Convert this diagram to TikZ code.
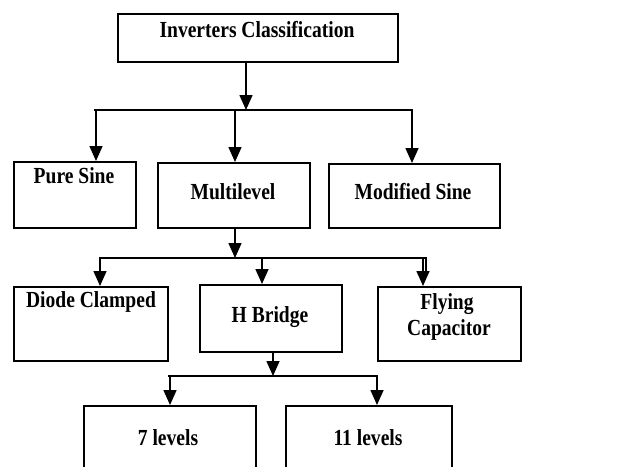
\documentclass[tikz,border=0pt]{standalone}
\usepackage{fontspec}
\setmainfont{Liberation Serif}[FakeStretch=0.85]
\usetikzlibrary{arrows.meta}
\tikzset{
  box/.style={draw=black, line width=1.6pt, rectangle, inner sep=0pt},
  lbl/.style={font=\fontsize{23}{26}\selectfont\bfseries, inner sep=0pt, align=center},
  wire/.style={draw=black, line width=1.6pt},
  arr/.style={wire, -{Triangle[width=13pt,length=15pt]}},
}
\newcommand{\boxat}[5]{%
  \node[box, minimum width=#4-#2, minimum height=#5-#3, anchor=north west] (#1) at (#2,#3) {};}
\begin{document}
\begin{tikzpicture}[x=1pt, y=-1pt]
\useasboundingbox (0,0) rectangle (639,466);
\clip (0,0) rectangle (639,466);

% boxes
\boxat{top}{117}{13}{397}{61}
\boxat{pure}{13}{161}{135}{227}
\boxat{multi}{157}{162}{309}{227}
\boxat{mod}{328}{163}{499}{227}
\boxat{diode}{13}{286}{167}{360}
\boxat{hb}{199}{284}{341}{351}
\boxat{fly}{377}{286}{520}{360}
\boxat{lseven}{83}{405}{255}{490}
\boxat{leleven}{285}{405}{451}{490}

% labels
\node[lbl] (ttop) at (257,30) {Inverters Classification};
\node[lbl] (tpure) at (74,176) {Pure Sine};
\node[lbl] (tmulti) at (233,192) {Multilevel};
\node[lbl] (tmod) at (413,192) {Modified Sine};
\node[lbl] (tdiode) at (91,302) {Diode Clamped};
\node[lbl] (thb) at (270,317) {H Bridge};
\node[lbl] (tfly) at (447,304) {Flying};
\node[lbl] (tcap) at (449,330) {Capacitor};
\node[lbl] (tseven) at (168,438) {7 levels};
\node[lbl] (televen) at (368,438) {11 levels};

% first level
\coordinate (j1) at (246,110);
\coordinate (b1l) at (94,110);
\coordinate (b1r) at (413,110);
\coordinate (a1) at (96,110);
\coordinate (a2) at (235,110);
\coordinate (a3) at (412,110);
\draw[arr] (j1 |- top.south) -- (j1);
\draw[wire] (b1l) -- (b1r);
\draw[arr] (a1) -- (a1 |- pure.north);
\draw[arr] (a2) -- (a2 |- multi.north);
\draw[arr] (a3) -- (a3 |- mod.north);

% second level
\coordinate (j2) at (235,258);
\coordinate (b2l) at (99,258);
\coordinate (b2r) at (427,258);
\coordinate (c1) at (100,258);
\coordinate (c2) at (262,258);
\coordinate (c3) at (423,258);
\coordinate (c3b) at (426,258);
\draw[arr] (j2 |- multi.south) -- (j2);
\draw[wire] (b2l) -- (b2r);
\draw[arr] (c1) -- (c1 |- diode.north);
\draw[arr] (c2) -- (c2 |- hb.north);
\draw[arr] (c3) -- (c3 |- fly.north);
\draw[wire, line width=1.2pt] (c3b) -- ([yshift=9pt]c3b |- fly.north);

% third level
\coordinate (j3) at (273,376);
\coordinate (b3l) at (168,376);
\coordinate (b3r) at (378,376);
\coordinate (d1) at (170,376);
\coordinate (d2) at (377,376);
\draw[arr] (j3 |- hb.south) -- (j3);
\draw[wire] (b3l) -- (b3r);
\draw[arr] (d1) -- (d1 |- lseven.north);
\draw[arr] (d2) -- (d2 |- leleven.north);
\end{tikzpicture}
\end{document}
